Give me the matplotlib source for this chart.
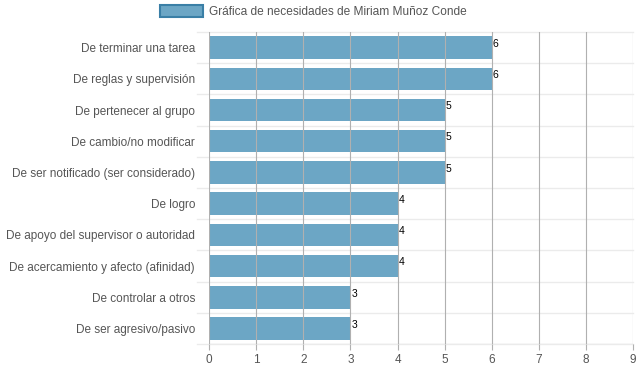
import matplotlib.pyplot as plt
import matplotlib.patches as mpatches
import matplotlib

matplotlib.rcParams['font.family'] = ['Liberation Sans', 'DejaVu Sans']

categories = ["De terminar una tarea", "De reglas y supervisión",
              "De pertenecer al grupo", "De cambio/no modificar",
              "De ser notificado (ser considerado)", "De logro",
              "De apoyo del supervisor o autoridad",
              "De acercamiento y afecto (afinidad)",
              "De controlar a otros", "De ser agresivo/pasivo"]
values = [6, 6, 5, 5, 5, 4, 4, 4, 3, 3]
x_ticks = list(range(0, 10))
legend_label = "Gráfica de necesidades de Miriam Muñoz Conde"

bar_color = '#6ca6c5'
text_color = '#555555'

fig = plt.figure(figsize=(6.39, 3.72), dpi=100)
ax = fig.add_axes([0.327, 0.075, 0.664, 0.839])

y = list(range(len(categories)))
ax.barh(y, values, height=0.72, color=bar_color, zorder=3)
for yi, v in zip(y, values):
    ax.text(v + 0.02, yi - 0.12, str(v), fontsize=7.5, color='black',
            ha='left', va='center', zorder=4)

ax.set_xlim(0, 9)
ax.set_ylim(len(categories) - 0.5, -0.5)
ax.set_yticks(y)
ax.set_yticklabels(categories, fontsize=8.5, color=text_color)
ax.set_xticks(x_ticks)
ax.set_xticklabels([str(t) for t in x_ticks], fontsize=8.5, color=text_color)
ax.tick_params(axis='y', length=0, pad=10)
ax.tick_params(axis='x', length=4, color='#b0b0b0', pad=3)

# vertical grid lines (darker) and category separators (light)
for t in x_ticks:
    ax.axvline(t, color='#b0b0b0', lw=0.8, zorder=4 if t < 9 else 1)
for b in [i - 0.5 for i in range(len(categories) + 1)]:
    ax.plot([-0.25, 9], [b, b], color='#ebebeb', lw=1, zorder=1,
            clip_on=False)

for s in ax.spines.values():
    s.set_visible(False)
ax.axhline(len(categories) - 0.5, color='#b0b0b0', lw=0.8, zorder=5)

handle = mpatches.Patch(facecolor=bar_color, edgecolor='#3a7fa6', lw=1.5)
fig.legend([handle], [legend_label], loc='upper center',
           bbox_to_anchor=(0.49, 1.015), frameon=False, fontsize=8.6,
           handlelength=3.6, handleheight=1.1, handletextpad=0.5,
           labelcolor=text_color)

fig.savefig('out.png', dpi=100)
